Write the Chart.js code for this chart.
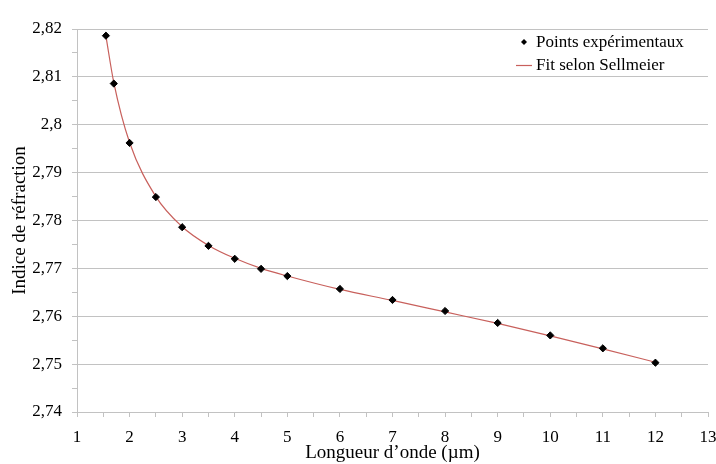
<!DOCTYPE html>
<html>
<head>
<meta charset="utf-8">
<script src="https://cdn.jsdelivr.net/npm/chart.js@4"></script>
<style>
  html, body { margin: 0; padding: 0; background: #ffffff; }
  #wrap { position: relative; width: 716px; height: 464px; }
</style>
</head>
<body>
<div id="wrap"><canvas id="c" width="716" height="464"></canvas></div>
<script>
// ---- data ----
const wavelengths = [1.55, 1.7, 2, 2.5, 3, 3.5, 4, 4.5, 5, 6, 7, 8, 9, 10, 11, 12];
const measuredIndex = [2.8186, 2.8086, 2.7962, 2.7849, 2.7786, 2.7747, 2.7720, 2.7699, 2.7684, 2.7657, 2.7634, 2.7611, 2.7586, 2.7560, 2.7533, 2.7503];
const fitIndex = [2.8185, 2.8088, 2.7963, 2.7850, 2.7787, 2.7748, 2.7721, 2.7700, 2.7684, 2.7656, 2.7633, 2.7609, 2.7585, 2.7559, 2.7532, 2.7504];
const xTickValues = [1, 2, 3, 4, 5, 6, 7, 8, 9, 10, 11, 12, 13];
const yTickValues = [2.74, 2.75, 2.76, 2.77, 2.78, 2.79, 2.80, 2.81, 2.82];
const seriesNames = ['Points expérimentaux', 'Fit selon Sellmeier'];
const axisTitles = { x: 'Longueur d\u2019onde (\u00b5m)', y: 'Indice de réfraction' };

const FONT = '"Liberation Serif", "Times New Roman", serif';
const GRID = '#c2c2c2';
const LINE = '#c8605c';

function isMajor(v, step) {
  const q = v / step;
  return Math.abs(q - Math.round(q)) < 1e-6;
}
function fmt(v) {
  return String(Math.round(v * 100) / 100).replace('.', ',');
}

const legendPlugin = {
  id: 'insideLegend',
  afterDraw(chart) {
    const ctx = chart.ctx;
    ctx.save();
    ctx.font = '17px ' + FONT;
    ctx.fillStyle = '#000';
    ctx.strokeStyle = '#000';
    ctx.textBaseline = 'middle';
    ctx.textAlign = 'left';
    // item 1 : diamond marker
    ctx.beginPath();
    ctx.moveTo(524 - 3, 42); ctx.lineTo(524, 42 - 3); ctx.lineTo(524 + 3, 42); ctx.lineTo(524, 42 + 3); ctx.closePath();
    ctx.fill();
    ctx.fillText(seriesNames[0], 536, 43);
    // item 2 : line sample
    ctx.strokeStyle = LINE;
    ctx.lineWidth = 1.2;
    ctx.beginPath(); ctx.moveTo(516, 65.5); ctx.lineTo(532, 65.5); ctx.stroke();
    ctx.fillText(seriesNames[1], 536, 66);
    ctx.restore();
  }
};

new Chart(document.getElementById('c'), {
  type: 'scatter',
  data: {
    datasets: [
      {
        label: seriesNames[0],
        data: wavelengths.map((x, i) => ({ x: x, y: measuredIndex[i] })),
        pointStyle: 'rectRot',
        pointRadius: 3.6,
        pointBackgroundColor: '#000',
        pointBorderColor: '#000',
        pointBorderWidth: 1,
        showLine: false,
        order: 1
      },
      {
        label: seriesNames[1],
        data: wavelengths.map((x, i) => ({ x: x, y: fitIndex[i] })),
        showLine: true,
        borderColor: LINE,
        borderWidth: 1.2,
        pointRadius: 0,
        cubicInterpolationMode: 'monotone',
        order: 2
      }
    ]
  },
  options: {
    responsive: false,
    animation: false,
    devicePixelRatio: 1,
    layout: { padding: { top: 29, right: 0, bottom: 0, left: 0 } },
    plugins: {
      legend: { display: false },
      tooltip: { enabled: false }
    },
    scales: {
      x: {
        type: 'linear',
        min: xTickValues[0],
        max: xTickValues[xTickValues.length - 1],
        afterFit(s) { s.height = 52; s.paddingRight = 8; s.paddingLeft = 0; },
        border: { display: true, color: GRID, width: 1 },
        grid: { drawOnChartArea: false, drawTicks: true, tickLength: 5, tickColor: GRID },
        ticks: {
          stepSize: 0.5,
          autoSkip: false,
          maxRotation: 0,
          padding: 10,
          color: '#000',
          font: { family: FONT, size: 17 },
          callback: (v) => isMajor(v, 1) ? String(Math.round(v)) : ''
        },
        title: {
          display: true,
          text: axisTitles.x,
          color: '#000',
          font: { family: FONT, size: 19 },
          padding: { top: 0, bottom: 0 }
        }
      },
      y: {
        type: 'linear',
        min: yTickValues[0],
        max: yTickValues[yTickValues.length - 1],
        afterFit(s) { s.width = 77; },
        border: { display: true, color: GRID, width: 1 },
        grid: {
          drawOnChartArea: true,
          drawTicks: true,
          tickLength: 5,
          tickColor: GRID,
          color: (c) => (c.tick && isMajor(c.tick.value, 0.01)) ? GRID : 'rgba(0,0,0,0)'
        },
        ticks: {
          stepSize: 0.005,
          autoSkip: false,
          padding: 10,
          color: '#000',
          font: { family: FONT, size: 17 },
          callback: (v) => isMajor(v, 0.01) ? fmt(v) : ''
        },
        title: {
          display: true,
          text: axisTitles.y,
          color: '#000',
          font: { family: FONT, size: 19 },
          padding: { top: 9, bottom: 0 }
        }
      }
    }
  },
  plugins: [legendPlugin]
});
</script>
</body>
</html>
